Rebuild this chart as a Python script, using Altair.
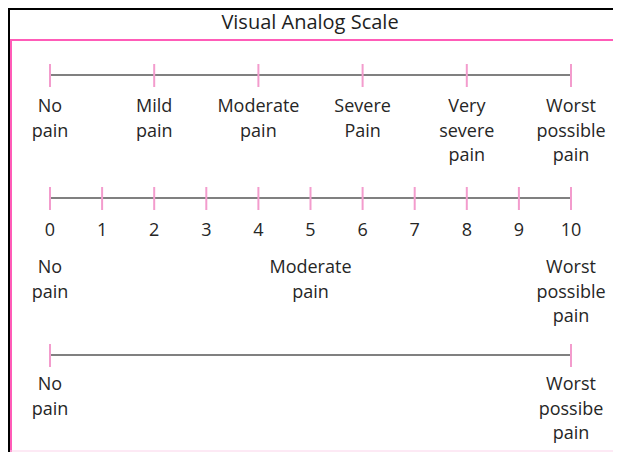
import altair as alt
import pandas as pd

# ---- data ----
title_text = "Visual Analog Scale"

row1_values = [0, 2, 4, 6, 8, 10]
row1_labels = ["No\npain", "Mild\npain", "Moderate\npain", "Severe\nPain",
               "Very\nsevere\npain", "Worst\npossible\npain"]

row2_ticks = [0, 1, 2, 3, 4, 5, 6, 7, 8, 9, 10]
row2_tick_labels = ["0", "1", "2", "3", "4", "5", "6", "7", "8", "9", "10"]
row2_values = [0, 5, 10]
row2_labels = ["No\npain", "Moderate\npain", "Worst\npossible\npain"]

row3_values = [0, 10]
row3_labels = ["No\npain", "Worst\npossibe\npain"]

# ---- styling ----
FONT = "Open Sans"
FS = 18
LH = 24.5
TXT = "#262626"
TICK = "#f39ccd"
LINE = "#808080"
PINK = "#ff5cb8"

W, H = 605, 444
xs = alt.Scale(domain=[0, 10], range=[42, 563])

def df(vals, labels=None):
    d = {"v": vals}
    if labels is not None:
        d["t"] = labels
    return pd.DataFrame(d)

span = pd.DataFrame({"a": [min(row1_values)], "b": [max(row1_values)]})

def scale_row(vals, y_line, labels_df, y_lab, extra=None):
    line = alt.Chart(span).mark_rule(color=LINE, strokeWidth=2).encode(
        x=alt.X("a:Q", scale=xs, axis=None), x2="b:Q", y=alt.value(y_line))
    ticks = alt.Chart(df(vals)).mark_rule(color=TICK, strokeWidth=2).encode(
        x=alt.X("v:Q", scale=xs, axis=None),
        y=alt.value(y_line - 11), y2=alt.value(y_line + 12))
    labs = alt.Chart(labels_df).mark_text(
        font=FONT, fontSize=FS, color=TXT, lineBreak="\n", lineHeight=LH,
        baseline="alphabetic", align="center").encode(
        x=alt.X("v:Q", scale=xs, axis=None), y=alt.value(y_lab), text="t:N")
    layers = [line, ticks, labs]
    if extra is not None:
        layers.append(extra)
    return layers

numbers = alt.Chart(df(row2_ticks, row2_tick_labels)).mark_text(
    font=FONT, fontSize=FS, color=TXT, baseline="alphabetic", align="center").encode(
    x=alt.X("v:Q", scale=xs, axis=None), y=alt.value(228), text="t:N")

r1 = scale_row(row1_values, 67, df(row1_values, row1_labels), 104)
r2 = scale_row(row2_ticks, 190, df(row2_values, row2_labels), 265, numbers)
r3 = scale_row(row3_values, 347, df(row3_values, row3_labels), 382)

base = alt.Chart(pd.DataFrame({"a": [0]}))
title = base.mark_text(font=FONT, fontSize=20, color="#1e1e1e", align="center",
                       baseline="middle").encode(
    x=alt.value(302), y=alt.value(15), text=alt.value(title_text))
top_black = base.mark_rule(color="#000000", strokeWidth=2).encode(
    x=alt.value(0), x2=alt.value(W), y=alt.value(1))
left_black = base.mark_rule(color="#000000", strokeWidth=2).encode(
    x=alt.value(1), y=alt.value(0), y2=alt.value(H))
pink_top = base.mark_rule(color=PINK, strokeWidth=2).encode(
    x=alt.value(2), x2=alt.value(W), y=alt.value(32))
pink_left = base.mark_rule(color=PINK, strokeWidth=2).encode(
    x=alt.value(3), y=alt.value(32), y2=alt.value(H))
pink_bottom = base.mark_rule(color="#fbd3ea", strokeWidth=1).encode(
    x=alt.value(2), x2=alt.value(W), y=alt.value(H - 1))

chart = alt.layer(
    top_black, left_black, pink_top, pink_left, pink_bottom, title,
    *r1, *r2, *r3
).properties(
    width=W, height=H, padding=0, autosize=alt.AutoSizeParams(type="none")
).configure_view(stroke=None).configure(background="white")

chart.save("out.html", embed_options={"renderer": "svg", "actions": False})
